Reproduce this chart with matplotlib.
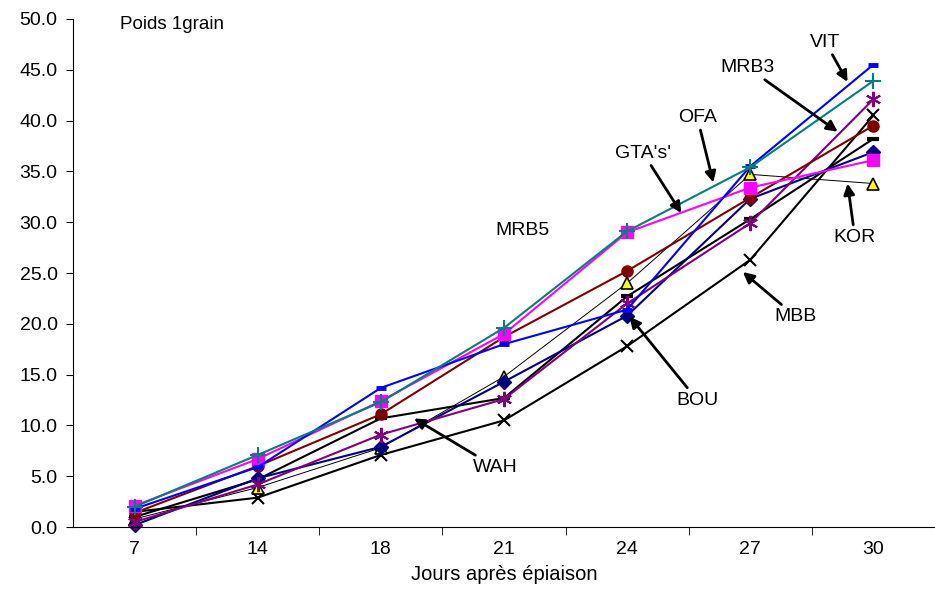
import matplotlib
matplotlib.use("Agg")
import matplotlib.pyplot as plt
from matplotlib.ticker import FormatStrFormatter

plt.rcParams['font.family'] = ['Liberation Sans', 'DejaVu Sans']

jours = ['7', '14', '18', '21', '24', '27', '30']

vit = [1.8, 5.9, 13.7, 18.0, 21.4, 35.5, 45.5]
ofa = [2.0, 7.1, 12.3, 19.6, 29.1, 35.4, 43.9]
gtas = [2.1, 6.7, 12.4, 19.0, 29.0, 33.4, 36.1]
mrb5 = [1.4, 6.0, 11.1, 18.7, 25.2, 32.4, 39.5]
mrb3 = [0.5, 4.2, 9.1, 12.6, 22.0, 29.9, 42.1]
wah = [1.0, 4.7, 10.7, 12.7, 22.7, 30.3, 38.2]
mbb = [1.5, 2.9, 7.1, 10.5, 17.8, 26.3, 40.5]
bou = [0.2, 4.8, 7.9, 14.3, 20.8, 32.3, 36.9]
kor = [0.8, 3.9, 7.8, 14.8, 24.0, 34.7, 33.8]

x = list(range(len(jours)))

fig = plt.figure(figsize=(9.35, 5.89), dpi=100)
ax = fig.add_axes([0.078, 0.105, 0.922, 0.863])

ax.plot(x, mbb, color='black', lw=1.5, marker='x', ms=9, mew=1.5, clip_on=False)
ax.plot(x, kor, color='black', lw=0.7, marker='^', ms=9, mfc='#FFFF00', mec='black', mew=1.2, clip_on=False)
ax.plot(x, wah, color='black', lw=1.5, marker='_', ms=9, mew=3, clip_on=False)
ax.plot(x, bou, color='#000080', lw=1.5, marker='D', ms=7, clip_on=False)
ax.plot(x, mrb3, color='#800080', lw=1.5, marker=(6, 2, 0), ms=11, mew=1.5, clip_on=False)
ax.plot(x, mrb5, color='#800000', lw=1.5, marker='o', ms=8, clip_on=False)
ax.plot(x, gtas, color='#FF00FF', lw=1.5, marker='s', ms=8, clip_on=False)
ax.plot(x, vit, color='#0000FF', lw=1.5, marker='_', ms=7, mew=3.5, clip_on=False)
ax.plot(x, ofa, color='#008080', lw=1.5, marker='+', ms=11, mew=1.5, clip_on=False)

ax.set_xlim(-0.5, 6.5)
ax.set_ylim(0, 50)
ax.set_yticks(range(0, 51, 5))
ax.yaxis.set_major_formatter(FormatStrFormatter('%.1f'))
ax.set_xticks(x)
ax.set_xticklabels(jours)
ax.set_xticks([i + 0.5 for i in range(6)], minor=True)
ax.tick_params(axis='x', which='major', length=0, labelsize=14, pad=10)
ax.tick_params(axis='x', which='minor', length=6, direction='out')
ax.tick_params(axis='y', length=5, direction='out', labelsize=14, pad=6)
ax.spines['top'].set_visible(False)
ax.spines['right'].set_visible(False)

ax.set_xlabel('Jours après épiaison', fontsize=14.5, labelpad=5)
ax.text(-0.12, 49.4, 'Poids 1grain', fontsize=13.5, va='center', ha='left')

arrow = dict(arrowstyle='-|>', color='black', lw=2, mutation_scale=16, shrinkA=1, shrinkB=0)
labels = [
    ('VIT', (5.61, 47.7), (5.79, 43.8)),
    ('MRB3', (4.98, 45.2), (5.71, 38.9)),
    ('OFA', (4.57, 40.3), (4.70, 33.9)),
    ("GTA's'", (4.13, 36.8), (4.44, 30.9)),
    ('KOR', (5.85, 28.5), (5.79, 33.8)),
    ('MBB', (5.37, 20.7), (4.94, 25.1)),
    ('BOU', (4.57, 12.5), (4.02, 20.7)),
    ('WAH', (2.93, 5.9), (2.27, 10.7)),
]
for txt, pos, tip in labels:
    ax.annotate(txt, xy=tip, xytext=pos, ha='center', va='center', fontsize=14,
                arrowprops=arrow)
ax.text(3.15, 29.2, 'MRB5', ha='center', va='center', fontsize=14)

fig.savefig('out.png', dpi=100)
